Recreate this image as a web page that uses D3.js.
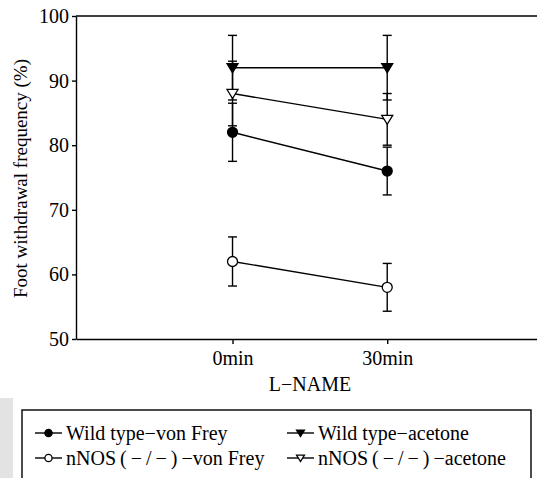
<!DOCTYPE html>
<html><head><meta charset="utf-8">
<script src="https://cdn.jsdelivr.net/npm/d3@7"></script>
<style>body{margin:0;background:#fff}svg{display:block}</style>
</head><body>
<script>
const categories = ["0min", "30min"];
const seriesNames = ["Wild type\u2212von Frey", "Wild type\u2212acetone", "nNOS\u2009(\u2009\u2212\u2009/\u2009\u2212\u2009)\u2009\u2212von Frey", "nNOS\u2009(\u2009\u2212\u2009/\u2009\u2212\u2009)\u2009\u2212acetone"];
const wtVonFrey = [82, 76];
const wtVonFreyErr = [4.5, 3.7];
const wtAcetone = [92, 92];
const wtAcetoneErr = [5, 5];
const nnosVonFrey = [62, 58];
const nnosVonFreyErr = [3.8, 3.7];
const nnosAcetone = [88, 84];
const nnosAcetoneErr = [5, 4];
const yTicks = [50, 60, 70, 80, 90, 100];
const xTitle = "L\u2212NAME";
const yTitle = "Foot withdrawal frequency (%)";

const series = [
  {name: seriesNames[0], values: wtVonFrey, err: wtVonFreyErr, shape: "circle", fill: "#000"},
  {name: seriesNames[1], values: wtAcetone, err: wtAcetoneErr, shape: "tri", fill: "#000"},
  {name: seriesNames[2], values: nnosVonFrey, err: nnosVonFreyErr, shape: "circle", fill: "#fff"},
  {name: seriesNames[3], values: nnosAcetone, err: nnosAcetoneErr, shape: "tri", fill: "#fff"}
];

const FONT = "Liberation Serif";
const W = 537, H = 478;
const svg = d3.select("body").append("svg").attr("width", W).attr("height", H)
  .attr("font-family", FONT);

const pLeft = 76, pRight = 537, pTop = 16, pBottom = 339;
const x = d3.scalePoint().domain(categories).range([pLeft, pRight]).padding(0.99).align(0.511);
const y = d3.scaleLinear().domain([50, 100]).range([pBottom, pTop]);

// gray artifact strip
svg.append("rect").attr("x", 0).attr("y", 398).attr("width", 13).attr("height", 80).attr("fill", "#e3e3e3");

const sw = 1.4;
// axes
const yAxis = svg.append("g").attr("transform", `translate(${pLeft},0)`)
  .call(d3.axisLeft(y).tickValues(yTicks).tickSize(4).tickSizeOuter(0).tickPadding(3));
const xAxis = svg.append("g").attr("transform", `translate(0,${pBottom})`)
  .call(d3.axisBottom(x).tickSize(5).tickSizeOuter(0).tickPadding(5));
[yAxis, xAxis].forEach(g => {
  g.attr("font-family", FONT).attr("font-size", 20);
  g.selectAll("path, line").attr("stroke", "#000").attr("stroke-width", sw);
  g.selectAll("text").attr("fill", "#000").attr("font-family", FONT).attr("font-size", 20);
});
xAxis.selectAll("text").attr("dy", "0.8em");
// top frame line
svg.append("line").attr("x1", pLeft).attr("x2", pRight).attr("y1", y(100)).attr("y2", y(100))
  .attr("stroke", "#000").attr("stroke-width", sw);

// titles
svg.append("text").attr("x", 310).attr("y", 391).attr("text-anchor", "middle")
  .attr("font-family", FONT).attr("font-size", 20).text(xTitle);
svg.append("text").attr("transform", `translate(27,${(pTop + pBottom) / 2 + 1}) rotate(-90)`)
  .attr("text-anchor", "middle").attr("font-family", FONT).attr("font-size", 19).text(yTitle);

const plot = svg.append("g");
// error bars
series.forEach(s => {
  s.values.forEach((v, i) => {
    const cx = x(categories[i]);
    const hi = y(v + s.err[i]), lo = y(v - s.err[i]);
    plot.append("line").attr("x1", cx).attr("x2", cx).attr("y1", hi).attr("y2", lo).attr("stroke", "#000").attr("stroke-width", sw);
    [hi, lo].forEach(yy => plot.append("line").attr("x1", cx - 4.5).attr("x2", cx + 4.5).attr("y1", yy).attr("y2", yy).attr("stroke", "#000").attr("stroke-width", sw));
  });
});
// lines
const line = d3.line().x((d, i) => x(categories[i])).y(d => y(d));
series.forEach(s => {
  plot.append("path").attr("d", line(s.values)).attr("fill", "none").attr("stroke", "#000").attr("stroke-width", sw);
});
function marker(g, shape, cx, cy, fill, size) {
  if (shape === "circle") {
    g.append("circle").attr("cx", cx).attr("cy", cy).attr("r", size)
      .attr("fill", fill).attr("stroke", "#000").attr("stroke-width", 1.3);
  } else {
    const h = size * 1.8, w = size * 1.1;
    g.append("path").attr("d", `M${cx - w},${cy - h * 0.45}L${cx + w},${cy - h * 0.45}L${cx},${cy + h * 0.55}Z`)
      .attr("fill", fill).attr("stroke", "#000").attr("stroke-width", 1.3);
  }
}
series.forEach(s => {
  s.values.forEach((v, i) => marker(plot, s.shape, x(categories[i]), y(v), s.fill, 5));
});

// legend
svg.append("rect").attr("x", 22).attr("y", 410).attr("width", 509).attr("height", 90)
  .attr("fill", "none").attr("stroke", "#000").attr("stroke-width", sw);
const legPos = [[35, 433], [287, 433], [35, 458], [287, 458]];
series.forEach((s, k) => {
  const [lx, ly] = legPos[k];
  const g = svg.append("g");
  g.append("line").attr("x1", lx).attr("x2", lx + 27).attr("y1", ly).attr("y2", ly).attr("stroke", "#000").attr("stroke-width", sw);
  marker(g, s.shape, lx + 13.5, ly, s.fill, 3.6);
  g.append("text").attr("x", lx + 31).attr("y", ly).attr("dy", "0.33em")
    .attr("font-family", FONT).attr("font-size", 20).text(s.name);
});
</script>
</body></html>
